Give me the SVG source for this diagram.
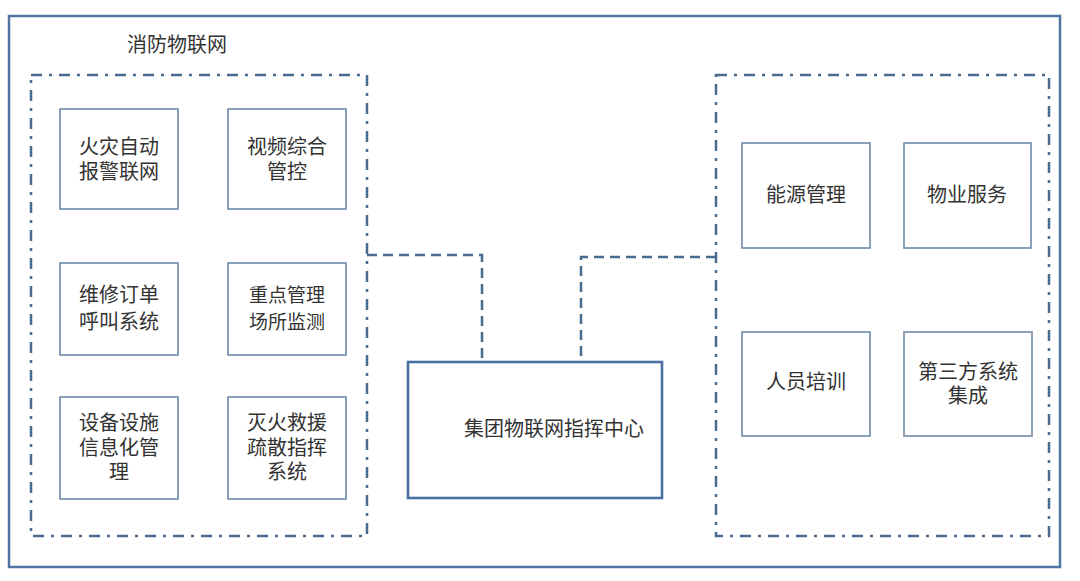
<svg xmlns="http://www.w3.org/2000/svg" width="1080" height="581" viewBox="0 0 1080 581">
<style>
.bg{fill:#ffffff}
.outer{fill:none;stroke:#4f76a3;stroke-width:2.5}
.group{fill:none;stroke:#4a6a8f;stroke-width:2.5;stroke-dasharray:11 7 3 7}
.box{fill:#ffffff;stroke:#6f89a8;stroke-width:1.6}
.center{fill:#ffffff;stroke:#4a70a0;stroke-width:2.6}
.conn{fill:none;stroke:#4a6a8f;stroke-width:2.5;stroke-dasharray:10 6}
text{font-family:"Liberation Sans","Noto Sans CJK SC",sans-serif;font-size:20px;fill:#333333;text-anchor:middle}
.small{font-size:19px}
</style>
<rect class="bg" x="0" y="0" width="1080" height="581"/>
<rect class="outer" x="9" y="16" width="1051" height="551"/>
<g id="title"><text x="177" y="52">消防物联网</text></g>
<g id="group-left"><rect class="group" x="31" y="75" width="336" height="461"/></g>
<g id="group-right"><rect class="group" x="716" y="75" width="333" height="461"/></g>
<g id="connectors">
<path class="conn" d="M367 255 H482 V362"/>
<path class="conn" d="M716 257 H581 V362"/>
</g>
<g id="n1"><rect class="box" x="60" y="109" width="118" height="100"/><text><tspan x="119" y="154">火灾自动</tspan><tspan x="119" y="179">报警联网</tspan></text></g>
<g id="n2"><rect class="box" x="228" y="109" width="118" height="100"/><text><tspan x="287" y="154">视频综合</tspan><tspan x="287" y="179">管控</tspan></text></g>
<g id="n3"><rect class="box" x="60" y="263" width="118" height="92"/><text><tspan x="119" y="302">维修订单</tspan><tspan x="119" y="329">呼叫系统</tspan></text></g>
<g id="n4"><rect class="box" x="228" y="263" width="118" height="92"/><text class="small"><tspan x="287" y="302">重点管理</tspan><tspan x="287" y="329">场所监测</tspan></text></g>
<g id="n5"><rect class="box" x="60" y="397" width="118" height="102"/><text><tspan x="119" y="430">设备设施</tspan><tspan x="119" y="455">信息化管</tspan><tspan x="119" y="479">理</tspan></text></g>
<g id="n6"><rect class="box" x="228" y="397" width="118" height="102"/><text><tspan x="287" y="430">灭火救援</tspan><tspan x="287" y="455">疏散指挥</tspan><tspan x="287" y="479">系统</tspan></text></g>
<g id="center"><rect class="center" x="408" y="362" width="254" height="136"/><text x="554" y="436">集团物联网指挥中心</text></g>
<g id="r1"><rect class="box" x="742" y="143" width="128" height="105"/><text x="806" y="202">能源管理</text></g>
<g id="r2"><rect class="box" x="904" y="143" width="127" height="105"/><text x="967" y="202">物业服务</text></g>
<g id="r3"><rect class="box" x="742" y="332" width="128" height="104"/><text x="806" y="389">人员培训</text></g>
<g id="r4"><rect class="box" x="904" y="332" width="128" height="104"/><text><tspan x="968" y="379">第三方系统</tspan><tspan x="968" y="403">集成</tspan></text></g>
</svg>
